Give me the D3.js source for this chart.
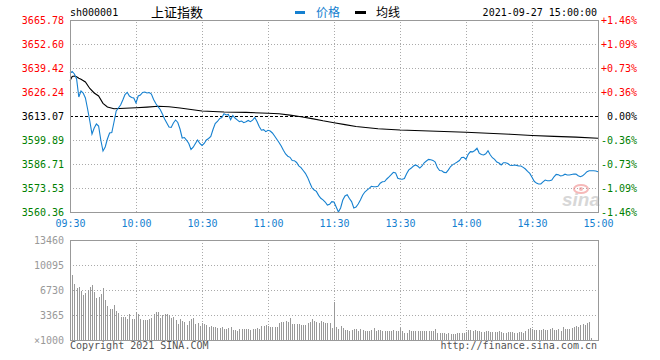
<!DOCTYPE html>
<html><head><meta charset="utf-8">
<script src="https://cdn.jsdelivr.net/npm/d3@7/dist/d3.min.js"></script>
<style>body{margin:0;background:#fff;}svg{display:block;}</style>
</head><body>
<script>
const code = "sh000001";
const title = "上证指数";
const dateText = "2021-09-27 15:00:00";
const preClose = 3613.07;
const timeTicks = [0, 30, 60, 90, 120, 150, 180, 210, 240];
const timeLabels = ["09:30","10:00","10:30","11:00","11:30","13:30","14:00","14:30","15:00"];
const priceTicks = [3665.78, 3652.60, 3639.42, 3626.24, 3613.07, 3599.89, 3586.71, 3573.53, 3560.36];
const volTicks = [13460, 10095, 6730, 3365, 0];

const price = [
3636.52,3637.50,3636.13,3633.39,3623.50,3626.80,3625.70,3622.95,3616.91,3610.33,
3603.19,3606.48,3608.68,3607.58,3599.89,3593.85,3596.05,3600.44,3603.74,3604.01,
3609.78,3615.82,3617.46,3619.11,3621.86,3624.88,3626.08,3624.05,3623.23,3622.95,
3620.21,3624.05,3624.60,3625.97,3626.25,3625.70,3625.97,3625.15,3622.13,3619.93,
3618.18,3616.64,3614.17,3611.42,3609.23,3607.03,3606.76,3609.23,3610.87,3609.50,
3605.93,3600.99,3601.27,3599.73,3597.97,3594.68,3595.94,3597.97,3599.89,3597.97,
3596.87,3597.97,3599.89,3600.72,3601.81,3605.66,3608.95,3610.05,3611.64,3612.25,
3614.28,3613.62,3613.89,3611.04,3613.35,3611.97,3610.98,3610.00,3610.33,3609.39,
3609.94,3610.60,3609.94,3610.82,3612.25,3610.00,3607.30,3605.27,3605.55,3604.50,
3605.22,3604.83,3603.74,3602.09,3600.28,3598.52,3596.60,3594.29,3592.21,3591.00,
3590.39,3588.64,3588.53,3587.54,3585.73,3584.68,3583.15,3581.61,3579.36,3576.39,
3573.65,3572.44,3571.67,3569.48,3567.88,3567.00,3565.85,3564.20,3564.59,3566.07,
3565.85,3563.11,3560.36,3562.56,3566.95,3569.15,3569.80,3567.77,3566.07,3562.56,
3563.11,3564.75,3566.95,3569.58,3571.34,3572.33,3573.32,3574.47,3574.25,3574.25,
3574.47,3576.17,3577.00,3577.11,3578.48,3579.63,3580.84,3582.16,3581.83,3578.92,
3578.48,3578.31,3578.75,3581.33,3583.48,3584.35,3585.45,3586.17,3585.62,3584.46,
3585.62,3587.37,3588.36,3589.24,3589.08,3588.69,3587.81,3584.74,3583.15,3583.04,
3582.10,3581.94,3583.48,3585.34,3586.39,3587.05,3587.81,3588.64,3590.28,3590.39,
3589.30,3592.04,3593.47,3593.36,3594.13,3595.34,3592.70,3591.93,3591.66,3592.32,
3594.02,3591.77,3590.17,3589.30,3587.81,3587.26,3586.17,3587.43,3587.37,3586.99,
3586.06,3585.89,3586.17,3585.95,3585.62,3585.62,3584.85,3583.97,3582.71,3581.55,
3579.41,3577.22,3576.23,3575.73,3575.73,3576.94,3577.93,3577.55,3577.55,3577.88,
3579.69,3581.01,3580.79,3580.13,3580.40,3581.11,3580.68,3580.68,3580.95,3581.23,
3581.17,3580.29,3579.74,3580.24,3581.33,3582.49,3583.04,3583.04,3583.04,3582.87,3582.49
];

const avgIdx = [0,1,2,3,4,5,7,9,11,13,15,17,20,25,30,35,40,45,50,55,60,70,80,90,95,100,105,110,115,120,125,130,140,150,160,170,180,190,200,210,220,230,240];
const avgVal = [3632.45,3634.76,3635.03,3634.65,3633.82,3633.28,3631.74,3628.17,3625.70,3624.05,3620.04,3618.01,3617.08,3617.30,3617.57,3617.96,3618.45,3618.18,3617.46,3616.64,3615.82,3615.27,3615.05,3614.55,3614.28,3613.56,3612.63,3611.64,3610.43,3609.39,3608.35,3607.31,3606.10,3605.38,3605.00,3604.56,3604.12,3603.57,3603.08,3602.36,3601.87,3601.49,3600.83];

const volume = [
13460,8749,7537,6954,7179,6640,6057,6371,6730,7179,
7403,6505,5608,5832,6191,6954,5384,4576,4172,4172,
4711,3903,3589,3140,3095,3051,2826,3499,2826,2826,
3724,3544,2826,2692,2692,2736,2826,2916,3454,3768,
3768,3006,3364,3499,3499,3364,3006,3140,2692,2153,
2781,2602,2467,2019,2602,2781,2916,2108,2243,1884,
2243,2108,2019,1704,1884,1704,1794,1570,1660,1704,
1525,1435,1570,1794,1346,1346,1256,1435,1435,1435,
1435,1435,1346,1435,1435,1570,1480,1884,1884,2019,
1884,1794,1704,1704,1704,2333,2467,2467,2557,2467,
2916,2153,2153,2153,2153,2019,2019,2019,2333,2467,
2781,2602,2467,2243,2557,2377,2243,2243,2243,1570,
5159,
1794,1525,1883,1614,1345,1345,1255,1345,1435,1525,
1255,1435,1345,1255,1210,1255,1345,1614,1255,1345,
1345,1255,1210,1255,1210,1255,1345,1255,1210,1614,
1255,986,986,1345,1255,1165,1210,1210,1165,1255,
1165,1210,1210,1165,
1165,1525,986,896,986,896,807,896,807,807,807,986,986,986,986,
1076,1345,1345,1255,1345,1165,1165,
1076,1076,1255,1210,1076,1076,1076,1076,1210,
1076,986,986,1076,1121,
1076,986,986,1121,
1076,986,1210,1435,1569,1525,1345,1345,1345,1345,
1435,1345,1345,1525,1569,1345,1345,1435,1255,
1704,1525,1525,1525,1614,1794,1883,1794,2063,2153,
2063,2242,2422,223,
0,0,0
];

const mono = "'DejaVu Sans Mono', monospace";
const cjk = "'Noto Sans CJK SC', sans-serif";
const blue = "#1580d0";
const red = "#ff0000";
const green = "#008000";
const gridColor = "#aaaaaa";
const borderColor = "#999999";

const L = 70, R = 598, PT = 20, PB = 212, VT = 240, VB = 340;

const svg = d3.select("body").append("svg").attr("width", 660).attr("height", 360);

const x = d3.scaleLinear().domain([0, 240]).range([L, R]);
const y = d3.scaleLinear().domain([priceTicks[priceTicks.length - 1], priceTicks[0]]).range([PB, PT]);
const yv = d3.scaleLinear().domain([0, volTicks[0]]).range([VB, VT]);

function styleGrid(g) {
  g.select(".domain").remove();
  g.selectAll("line").attr("stroke", gridColor).attr("stroke-dasharray", "1,2").attr("shape-rendering", "crispEdges");
}

svg.append("g").attr("transform", `translate(${L},0)`)
  .call(d3.axisLeft(y).tickValues(priceTicks.filter((d, i) => i > 0 && i < priceTicks.length - 1 && d !== preClose)).tickSize(-(R - L)).tickFormat(""))
  .call(styleGrid);
svg.append("g").attr("transform", `translate(0,${PB})`)
  .call(d3.axisBottom(x).tickValues(timeTicks.slice(1, -1)).tickSize(-(PB - PT)).tickFormat(""))
  .call(styleGrid);
svg.append("g").attr("transform", `translate(${L},0)`)
  .call(d3.axisLeft(yv).tickValues(volTicks.slice(1, -1)).tickSize(-(R - L)).tickFormat(""))
  .call(styleGrid);
svg.append("g").attr("transform", `translate(0,${VB})`)
  .call(d3.axisBottom(x).tickValues(timeTicks.slice(1, -1)).tickSize(-(VB - VT)).tickFormat(""))
  .call(styleGrid);

svg.append("line").attr("x1", L).attr("x2", R).attr("y1", Math.round(y(preClose)) + 0.5).attr("y2", Math.round(y(preClose)) + 0.5)
  .attr("stroke", "#000").attr("stroke-dasharray", "3,2");

const wm = svg.append("g").attr("opacity", 0.55);
wm.append("text").attr("x", 562).attr("y", 206).text("sina")
  .attr("font-family", "'Liberation Sans', Arial, sans-serif").attr("font-style", "italic").attr("font-weight", "bold")
  .attr("font-size", 19).attr("fill", "#b8b8b8");
wm.append("ellipse").attr("cx", 581).attr("cy", 189).attr("rx", 7).attr("ry", 4)
  .attr("fill", "none").attr("stroke", "#f08080").attr("stroke-width", 2);
wm.append("circle").attr("cx", 581).attr("cy", 189).attr("r", 2).attr("fill", "#f08080");

svg.append("g").selectAll("rect").data(volume).join("rect")
  .attr("x", (d, i) => Math.round(x(i)))
  .attr("width", 1)
  .attr("y", d => yv(d))
  .attr("height", d => VB - yv(d))
  .attr("fill", "#999999")
  .attr("shape-rendering", "crispEdges");

const avgData = avgIdx.map((d, i) => [d, avgVal[i]]);
svg.append("path").datum(avgData)
  .attr("d", d3.line().x(d => x(d[0])).y(d => y(d[1])))
  .attr("fill", "none").attr("stroke", "#000").attr("stroke-width", 1.1);

svg.append("path").datum(price)
  .attr("d", d3.line().x((d, i) => x(i)).y(d => y(d)))
  .attr("fill", "none").attr("stroke", blue).attr("stroke-width", 1.1);

svg.append("rect").attr("x", L + 0.5).attr("y", PT + 0.5).attr("width", R - L).attr("height", PB - PT)
  .attr("fill", "none").attr("stroke", borderColor);
svg.append("rect").attr("x", L + 0.5).attr("y", VT + 0.5).attr("width", R - L).attr("height", VB - VT)
  .attr("fill", "none").attr("stroke", borderColor);

function colorOf(d) {
  if (Math.abs(d - preClose) < 0.005) return "#000";
  return d > preClose ? red : green;
}

svg.append("g").attr("transform", `translate(${L},0)`)
  .call(d3.axisLeft(y).tickValues(priceTicks).tickSize(0).tickPadding(6).tickFormat(d => d.toFixed(2)))
  .call(g => g.select(".domain").remove())
  .call(g => g.selectAll("text").attr("fill", d => colorOf(d)).attr("font-family", mono).attr("font-size", 10));

svg.append("g").attr("transform", `translate(${R},0)`)
  .call(d3.axisRight(y).tickValues(priceTicks).tickSize(0).tickPadding(39)
    .tickFormat(d => { const p = (d - preClose) / preClose * 100; if (Math.abs(p) < 0.001) return "0.00%"; return (p > 0 ? "+" : "") + p.toFixed(2) + "%"; }))
  .call(g => g.select(".domain").remove())
  .call(g => g.selectAll("text").attr("text-anchor", "end").attr("fill", d => colorOf(d)).attr("font-family", mono).attr("font-size", 10));

svg.append("g").attr("transform", `translate(0,${PB})`)
  .call(d3.axisBottom(x).tickValues(timeTicks).tickSize(0).tickPadding(8).tickFormat((d, i) => timeLabels[i]))
  .call(g => g.select(".domain").remove())
  .call(g => g.selectAll("text").attr("fill", blue).attr("font-family", mono).attr("font-size", 10));

svg.append("g").attr("transform", `translate(${L},0)`)
  .call(d3.axisLeft(yv).tickValues(volTicks).tickSize(0).tickPadding(6).tickFormat(d => d === 0 ? "×1000" : String(d)))
  .call(g => g.select(".domain").remove())
  .call(g => g.selectAll("text").attr("fill", "#999999").attr("font-family", mono).attr("font-size", 10));

svg.append("text").attr("x", 70).attr("y", 16).text(code)
  .attr("font-family", mono).attr("font-size", 10).attr("fill", "#000");
svg.append("text").attr("x", 151).attr("y", 17).text(title)
  .attr("font-family", cjk).attr("font-size", 13).attr("fill", "#000");
svg.append("rect").attr("x", 295).attr("y", 11).attr("width", 10).attr("height", 3).attr("fill", blue);
svg.append("text").attr("x", 316).attr("y", 17).text("价格")
  .attr("font-family", cjk).attr("font-size", 12).attr("fill", blue);
svg.append("rect").attr("x", 355).attr("y", 11).attr("width", 11).attr("height", 3).attr("fill", "#000");
svg.append("text").attr("x", 376).attr("y", 17).text("均线")
  .attr("font-family", cjk).attr("font-size", 12).attr("fill", "#000");
svg.append("text").attr("x", 597).attr("y", 16).attr("text-anchor", "end").text(dateText)
  .attr("font-family", mono).attr("font-size", 10).attr("fill", "#000");

svg.append("text").attr("x", 70).attr("y", 349).text("Copyright 2021 SINA.COM")
  .attr("font-family", mono).attr("font-size", 10).attr("fill", "#555");
svg.append("text").attr("x", 597).attr("y", 349).attr("text-anchor", "end").text("http://finance.sina.com.cn")
  .attr("font-family", mono).attr("font-size", 10).attr("fill", "#555");
</script>
</body></html>
